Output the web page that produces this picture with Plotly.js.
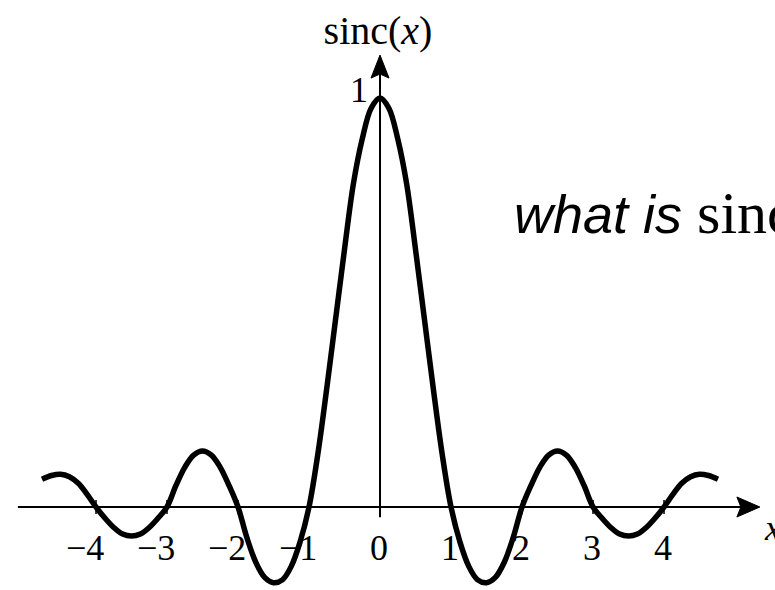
<!DOCTYPE html>
<html>
<head>
<meta charset="utf-8">
<script src="https://cdn.plot.ly/plotly-3.0.1.min.js"></script>
<style>html,body{margin:0;padding:0;background:#fff;}#chart{width:775px;height:590px;}</style>
</head>
<body>
<div id="chart"></div>
<script>
// Curve values
const xs = [-4.76,-4.625,-4.5,-4.375,-4.25,-4.125,-4,
            -3.875,-3.75,-3.625,-3.5,-3.375,-3.25,-3.125,-3,
            -2.875,-2.75,-2.625,-2.5,-2.375,-2.25,-2.125,-2,
            -1.875,-1.75,-1.625,-1.5,-1.375,-1.25,-1.125,-1,
            -0.875,-0.75,-0.625,-0.5,-0.375,-0.25,-0.125,0,
            0.125,0.25,0.375,0.5,0.625,0.75,0.875,1,
            1.125,1.25,1.375,1.5,1.625,1.75,1.875,2,
            2.125,2.25,2.375,2.5,2.625,2.75,2.875,3,
            3.125,3.25,3.375,3.5,3.625,3.75,3.875,4,
            4.125,4.25,4.375,4.5,4.625,4.76];
const ys = [0.068,0.077,0.080,0.074,0.058,0.031,0,
            -0.027,-0.050,-0.066,-0.071,-0.066,-0.050,-0.027,0,
            0.052,0.097,0.127,0.137,0.127,0.097,0.052,0,
            -0.075,-0.135,-0.172,-0.185,-0.178,-0.145,-0.085,0,
            0.13,0.29,0.46,0.63,0.79,0.90,0.975,1.0,
            0.975,0.90,0.79,0.63,0.46,0.29,0.13,0,
            -0.085,-0.145,-0.178,-0.185,-0.172,-0.135,-0.075,0,
            0.052,0.097,0.127,0.137,0.127,0.097,0.052,0,
            -0.027,-0.050,-0.066,-0.071,-0.066,-0.050,-0.027,0,
            0.031,0.058,0.074,0.080,0.077,0.068];
// Tick labels
const tickVals = [-4,-3,-2,-1,0,1,2,3,4];
const tickText = ['\u22124','\u22123','\u22122','\u22121','0','1','2','3','4'];
const yTickVal = 1;
const yTickText = '1';

const serif = 'Liberation Serif, Times New Roman, serif';

const shapes = [
  // horizontal axis line
  {type:'line', xref:'x', yref:'y', x0:-5.1, x1:5.2, y0:0, y1:0, line:{color:'#000', width:2}},
  // horizontal arrow head
  {type:'path', xref:'x', yref:'y', xsizemode:'pixel', ysizemode:'pixel', xanchor:5.35, yanchor:0,
   path:'M0,0 L-23,10 L-19,0 L-23,-10 Z', fillcolor:'#000', line:{color:'#000', width:1}},
  // vertical axis line
  {type:'line', xref:'x', yref:'y', x0:0, x1:0, y0:-0.025, y1:1.07, line:{color:'#000', width:2}},
  // vertical arrow head
  {type:'path', xref:'x', yref:'y', xsizemode:'pixel', ysizemode:'pixel', xanchor:0, yanchor:1.105,
   path:'M0,0 L-9,-23 L0,-19 L9,-23 Z', fillcolor:'#000', line:{color:'#000', width:1}}
];
tickVals.forEach(v => {
  if (v !== 0) shapes.push({type:'line', xref:'x', yref:'y', ysizemode:'pixel', yanchor:0,
    x0:v, x1:v, y0:-7, y1:7, line:{color:'#000', width:1.5}});
});

const annotations = tickVals.map((v,i) => ({
  x:v, y:0, xref:'x', yref:'y', text:tickText[i], showarrow:false,
  xanchor:'right', yanchor:'top', xshift:10, yshift:-19,
  font:{family:serif, size:36, color:'#000'}
}));
annotations.push({x:0, y:yTickVal, xref:'x', yref:'y', text:yTickText, showarrow:false,
  xanchor:'right', yanchor:'middle', xshift:-10, yshift:8, font:{family:serif, size:36, color:'#000'}});
annotations.push({x:5.38, y:0, xref:'x', yref:'y', text:'<i>x</i>', showarrow:false,
  xanchor:'left', yanchor:'middle', yshift:-21, font:{family:serif, size:36, color:'#000'}});
annotations.push({x:1.86, y:0.67, xref:'x', yref:'y', text:'<i>what is</i> <span style="font-family:Liberation Serif;font-size:60px">sinc(<i>x</i>)</span>', showarrow:false,
  xanchor:'left', yanchor:'bottom', yshift:-15, font:{family:'Liberation Sans, Arial, sans-serif', size:54, color:'#000'}});

const trace = {
  x: xs, y: ys, type:'scatter', mode:'lines',
  line:{color:'#000', width:5.5, shape:'spline', smoothing:1},
  hoverinfo:'skip'
};

const layout = {
  width:775, height:590,
  margin:{l:0, r:0, t:0, b:0},
  paper_bgcolor:'#fff', plot_bgcolor:'#fff',
  showlegend:false,
  title:{text:'sinc(<i>x</i>)', font:{family:serif, size:40, color:'#000'}, x:378/775, xanchor:'center', y:0.949, yanchor:'middle', yref:'container'},
  xaxis:{range:[-5.352, 5.563], visible:false, fixedrange:true},
  yaxis:{range:[-0.2029, 1.2396], visible:false, fixedrange:true},
  shapes: shapes,
  annotations: annotations
};

Plotly.newPlot('chart', [trace], layout, {staticPlot:true, displayModeBar:false});
</script>
</body>
</html>
